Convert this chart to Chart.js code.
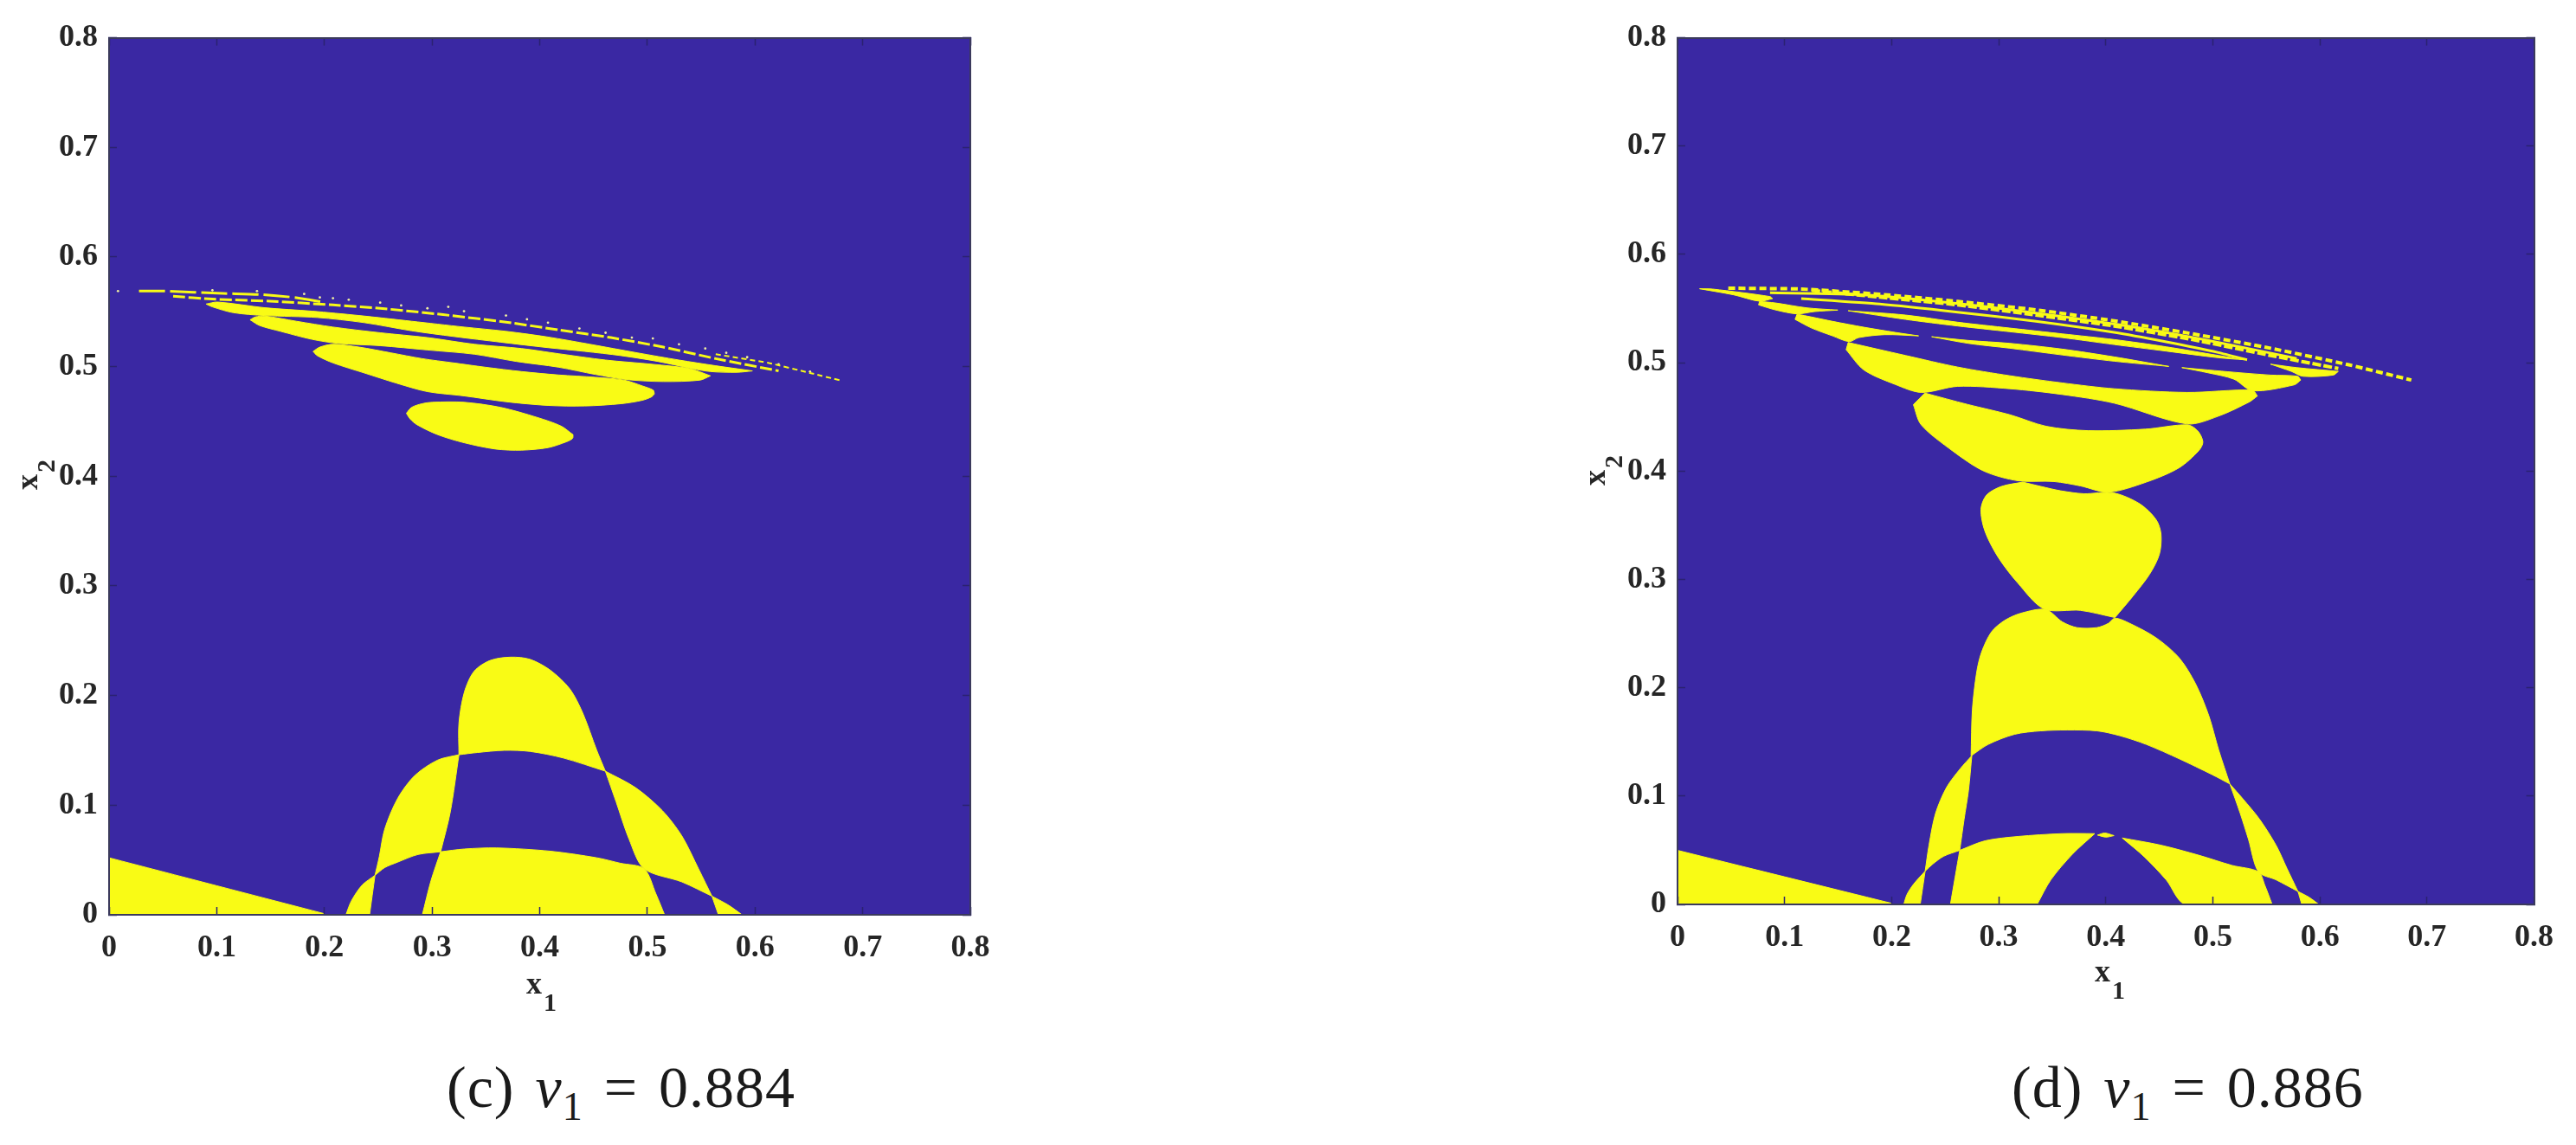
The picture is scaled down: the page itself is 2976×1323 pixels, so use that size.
<!DOCTYPE html>
<html>
<head>
<meta charset="utf-8">
<script src="https://cdn.jsdelivr.net/npm/chart.js@4/dist/chart.umd.min.js"></script>
<style>
  html, body { margin: 0; padding: 0; background: #fff; width: 2976px; height: 1323px; overflow: hidden; }
  canvas { position: absolute; top: 0; }
  #plotC { left: 0; }
  #plotD { left: 1813px; }
  .caption { position: absolute; font: 68px "Liberation Serif", serif; color: #1a1a1a; white-space: nowrap; top: 1221px; line-height: 70px; letter-spacing: 1px; word-spacing: 6px; }
  .caption sub { font-size: 46px; line-height: 0; }
  .axisname { position: absolute; font: bold 36px "Liberation Serif", serif; color: #262626; white-space: nowrap; line-height: 36px; }
  .axisname sub { font-size: 30px; line-height: 0; vertical-align: -20px; margin-left: 2px; }
  .axisname.vert { transform: rotate(-90deg); transform-origin: 0 0; }
</style>
</head>
<body>
<canvas id="plotC" width="1200" height="1180"></canvas>
<canvas id="plotD" width="1163" height="1180"></canvas>
<div class="axisname" style="left:608px;top:1118px">x<sub>1</sub></div>
<div class="axisname" style="left:2420px;top:1104px">x<sub>1</sub></div>
<div class="axisname vert" style="left:13px;top:566px">x<sub>2</sub></div>
<div class="axisname vert" style="left:1824px;top:561px">x<sub>2</sub></div>
<div class="caption" style="left:516px">(c) <i>v</i><sub>1</sub> = 0.884</div>
<div class="caption" style="left:2324px">(d) <i>v</i><sub>1</sub> = 0.886</div>
<script>
const tickLabels = ["0", "0.1", "0.2", "0.3", "0.4", "0.5", "0.6", "0.7", "0.8"];
const blue = "#3a28a3";
const yellow = "#f9fb15";

// panel (c), yellow regions as [x1, x2]
const cTriangle = [[0,0],[0,.052],[.2,.001],[.2,0]];
const cTopLobe = [[.325,.146],[.325,.175],[.330,.203],[.339,.222],[.354,.232],[.373,.235],[.391,.233],[.410,.223],[.428,.206],[.440,.184],[.453,.150],[.461,.131],[.422,.143],[.391,.149],[.367,.150],[.342,.148]];
const cLeftLobe = [[.247,.036],[.251,.053],[.256,.078],[.268,.106],[.284,.127],[.305,.141],[.325,.146],[.317,.094],[.308,.0575],[.287,.055],[.268,.048],[.256,.043]];
const cRightLobe = [[.461,.131],[.489,.116],[.514,.095],[.532,.072],[.548,.041],[.560,.017],[.532,.030],[.497,.042],[.483,.069],[.471,.103]];
const cCenter = [[.291,0],[.299,.031],[.308,.0575],[.330,.060],[.360,.061],[.410,.058],[.453,.052],[.475,.047],[.497,.042],[.508,.019],[.516,0]];
const cFootLeft = [[.220,0],[.225,.0125],[.235,.027],[.247,.036],[.242,0]];
const cFootRight = [[.560,.017],[.575,.009],[.588,0],[.566,0]];
const cEllipse1 = [[.2762,.4575],[.281,.4628],[.2908,.4662],[.3005,.4675],[.3297,.4675],[.3638,.4628],[.3979,.4536],[.4198,.4458],[.431,.4379],[.4305,.4345],[.4247,.4314],[.4077,.4261],[.3833,.4238],[.3590,.4248],[.3297,.4306],[.3054,.4379],[.2859,.4471],[.2796,.4523]];
const cEllipse2 = [[.1895,.5139],[.1958,.5178],[.2080,.5204],[.2323,.5178],[.2616,.5126],[.2908,.5073],[.3200,.5034],[.3492,.4995],[.3833,.4955],[.4174,.4924],[.4515,.4903],[.4783,.4877],[.4953,.4824],[.5055,.4785],[.5065,.4751],[.5040,.4725],[.4953,.4693],[.4758,.4662],[.4418,.4641],[.4077,.4646],[.3687,.468],[.3297,.4733],[.2957,.4772],[.2664,.4851],[.2372,.4942],[.2080,.5034],[.1934,.5100]];
const cEllipse3 = [[.1310,.5427],[.1359,.5453],[.1447,.5461],[.1739,.5414],[.2080,.5361],[.2518,.5309],[.2957,.5265],[.3395,.5204],[.3833,.5165],[.4174,.5118],[.4612,.5060],[.5051,.5021],[.5392,.4982],[.5586,.4916],[.5489,.4877],[.5148,.4864],[.4807,.4882],[.4515,.4929],[.4174,.4995],[.3784,.5047],[.3395,.5113],[.2957,.5152],[.2518,.5191],[.2128,.5212],[.1885,.5249],[.1593,.5322],[.1398,.5375]];
const cEllipse4 = [[.0901,.5571],[.1009,.5589],[.1447,.5537],[.1885,.5506],[.2323,.5466],[.2810,.5414],[.3297,.5361],[.3687,.5322],[.4077,.5270],[.4466,.5204],[.4905,.5126],[.5294,.5060],[.5635,.5008],[.5976,.4961],[.5830,.4948],[.5586,.4955],[.5392,.4987],[.5099,.5047],[.4758,.5100],[.4418,.5139],[.4077,.5173],[.3638,.5223],[.3200,.5275],[.2810,.5327],[.2372,.5401],[.1934,.5448],[.1447,.5466],[.1155,.5492],[.0960,.5545]];
const cThinBand = [[.0595,.5642],[.0960,.5616],[.1496,.5597],[.2080,.5563],[.2518,.5532],[.3103,.5474],[.3687,.5406],[.4174,.5335],[.4661,.5265],[.5148,.5178],[.5635,.5073],[.6219,.4961]];
const cTopDashes = [[.0278,.5689],[.0522,.5689],[.1057,.5668],[.1398,.5658],[.1739,.5629],[.1983,.5589]];
const cTailDashes = [[.5635,.5113],[.6122,.5034],[.6511,.4942],[.6804,.4872]];
const cSpecks = [[.0083,.5689],[.0960,.5697],[.1374,.5689],[.1812,.5663],[.1958,.5631],[.2080,.5624],[.2226,.5610],[.2518,.5584],[.2713,.5558],[.2957,.5532],[.3151,.5545],[.3297,.5506],[.3687,.5466],[.3882,.5432],[.4077,.5401],[.4369,.5348],[.4612,.5309],[.4856,.5265],[.5051,.5257],[.5294,.5204],[.5538,.5165],[.5733,.5126],[.5927,.5086],[.6219,.5021],[.6511,.4955]];

// panel (d)
const dTriangle = [[0,0],[0,.0499],[.2,.001],[.2,0]];
const dFootLeft = [[.2113,0],[.2144,.0093],[.2205,.0187],[.2313,.0307],[.2267,0]];
const dLeftLobe = [[.2313,.0307],[.2349,.0547],[.2410,.0840],[.2513,.1080],[.2641,.1253],[.2749,.1373],[.2718,.1053],[.2677,.0787],[.2636,.0499],[.2487,.0445],[.2385,.0373]];
const dCenterLeft = [[.2549,0],[.2636,.0499],[.2872,.0587],[.3179,.0627],[.3590,.0653],[.3897,.0653],[.3692,.0467],[.3487,.0227],[.3359,0]];
const dTip = [[.3923,.064],[.3990,.0659],[.4077,.0635],[.4,.0621]];
const dCenterRight = [[.4154,.0613],[.4513,.0547],[.4872,.0453],[.5179,.0360],[.5426,.0301],[.5487,.0173],[.5554,0],[.4744,0],[.4564,.0227],[.4359,.0440]];
const dRightLobe = [[.5159,.1112],[.5282,.0973],[.5436,.0787],[.5590,.0547],[.5692,.0333],[.5795,.0120],[.5590,.0227],[.5426,.0301],[.5333,.06],[.5256,.0840]];
const dFootRight = [[.5795,.012],[.5897,.0067],[.5990,0],[.5831,0]];
const dBell = [[.2742,.1371],[.2754,.1796],[.2794,.2142],[.2840,.2328],[.2932,.2515],[.3055,.2621],[.3209,.2688],[.3440,.2722],[.3594,.2608],[.3732,.2555],[.3917,.2555],[.4024,.2594],[.4086,.2642],[.4224,.2594],[.4470,.2461],[.4686,.2275],[.4839,.2036],[.4962,.1743],[.5055,.1424],[.5159,.1112],[.4993,.1198],[.4686,.1344],[.4378,.1477],[.4132,.1557],[.3917,.1602],[.3640,.1610],[.3394,.1602],[.3148,.1570],[.2902,.1477]];
const dBlob = [[.3225,.3898],[.3025,.3858],[.2886,.3778],[.2834,.3645],[.2871,.3446],[.2994,.3206],[.3178,.2967],[.3424,.2727],[.3763,.2714],[.4086,.2648],[.4255,.2847],[.4409,.3047],[.4501,.3233],[.4516,.3419],[.4470,.3552],[.4317,.3698],[.4070,.3799],[.3794,.3791],[.3578,.3818],[.3394,.3858]];
const dBowl = [[.2310,.4720],[.2203,.4613],[.2276,.4427],[.2568,.4187],[.2861,.4000],[.3178,.3911],[.3517,.3903],[.3763,.3863],[.4024,.3805],[.4378,.3898],[.4686,.4031],[.4870,.4190],[.4907,.4270],[.4857,.4373],[.4760,.4427],[.4370,.4387],[.3835,.4373],[.3445,.4413],[.3104,.4520],[.2714,.4614]];
const dLobe3 = [[.1594,.5187],[.1575,.5120],[.1740,.4934],[.2033,.4800],[.2276,.4726],[.2617,.4782],[.3104,.4760],[.3591,.4707],[.4078,.4627],[.4760,.4435],[.5052,.4507],[.5344,.4640],[.5417,.4694],[.5369,.4747],[.4760,.4726],[.4078,.4760],[.3591,.4814],[.3104,.4880],[.2617,.4960],[.2130,.5067]];
const dLobe4 = [[.1117,.5448],[.1098,.5400],[.1253,.5320],[.1448,.5248],[.1604,.5195],[.1692,.5232],[.1935,.5259],[.2252,.5248],[.2033,.5280],[.1740,.5328],[.1448,.5382],[.1253,.5422]];
const dBand1 = [[.2374,.5240],[.2714,.5206],[.3104,.5179],[.3591,.5126],[.4078,.5054],[.4589,.4966],[.4078,.5014],[.3591,.5072],[.3104,.5134],[.2714,.5179]];
const dRightPiece = [[.4711,.4955],[.5198,.4912],[.5539,.4886],[.5792,.4875],[.5821,.4840],[.5758,.4795],[.5369,.4742],[.5198,.4848],[.4955,.4907]];
const dLobe5 = [[.0766,.5566],[.0757,.5534],[.0913,.5488],[.1117,.5451],[.1278,.5472],[.1497,.5486],[.1205,.5507],[.0913,.5552]];
const dBand2 = [[.1594,.5480],[.2130,.5440],[.2617,.5374],[.3104,.5320],[.3591,.5267],[.4078,.5214],[.4565,.5147],[.5052,.5067],[.5296,.5027],[.5052,.5046],[.4565,.5107],[.4078,.5168],[.3591,.5232],[.3104,.5286],[.2617,.5339],[.2130,.5400]];
const dRightEnd = [[.5539,.4987],[.5783,.4955],[.6172,.4920],[.6124,.4886],[.5841,.4875],[.5734,.4920]];
const dLeftTip = [[.0206,.5683],[.0328,.5680],[.0864,.5611],[.0888,.5592],[.0766,.5568],[.0523,.5627]];
const dLine1 = [[.1156,.5592],[.1887,.5542],[.2617,.5467],[.3348,.5382],[.4078,.5280],[.4565,.5192],[.5052,.5094],[.5320,.5027]];
const dLine2 = [[.0864,.5646],[.1740,.5627],[.2227,.5587],[.2861,.5520],[.3591,.5427],[.4322,.5320],[.5052,.5187],[.5783,.5040]];
const dDash1 = [[.1253,.5667],[.1887,.5606],[.2617,.5534],[.3348,.5440],[.4078,.5339],[.4809,.5214],[.5539,.5067],[.6172,.4947]];
const dDash2 = [[.0474,.5688],[.1156,.5680],[.1887,.5632],[.2617,.5566],[.3348,.5488],[.4078,.5387],[.4809,.5267],[.5539,.5134],[.6270,.4981],[.6854,.4840]];

function toPoints(list) {
  return list.map((p) => ({ x: p[0], y: p[1] }));
}

// a point listed twice keeps the spline from rounding a cusp, so do that where the outline turns hard
function withCusps(list) {
  const out = [];
  const n = list.length;
  list.forEach((p, i) => {
    const a = list[(i + n - 1) % n];
    const b = list[(i + 1) % n];
    const turn = Math.abs(Math.atan2(b[1] - p[1], b[0] - p[0]) - Math.atan2(p[1] - a[1], p[0] - a[0]));
    const angle = turn > Math.PI ? 2 * Math.PI - turn : turn;
    out.push(p);
    if (angle > 1.0) out.push(p);
  });
  out.push(list[0]);
  return out;
}

function region(list) {
  return {
    data: toPoints(withCusps(list)),
    showLine: true,
    fill: "shape",
    backgroundColor: yellow,
    borderColor: yellow,
    borderWidth: 1,
    tension: 0.3,
    pointRadius: 0,
  };
}

function band(list, width, dash) {
  return {
    data: toPoints(list),
    showLine: true,
    fill: false,
    borderColor: yellow,
    borderWidth: width,
    borderDash: dash || [],
    tension: 0.2,
    pointRadius: 0,
  };
}

function specks(list) {
  return {
    data: toPoints(list),
    showLine: false,
    pointRadius: 1.4,
    pointBackgroundColor: "#f0f0a0",
    pointBorderWidth: 0,
  };
}

const areaFill = {
  id: "areaFill",
  beforeDatasetsDraw(chart) {
    const a = chart.chartArea;
    chart.ctx.save();
    chart.ctx.fillStyle = blue;
    chart.ctx.fillRect(a.left, a.top, a.width, a.height);
    chart.ctx.restore();
  },
};

function axis(position, size) {
  const horizontal = position === "top" || position === "bottom";
  const labelled = position === "bottom" || position === "left";
  return {
    type: "linear",
    position: position,
    min: 0,
    max: 0.8,
    afterFit: (s) => {
      if (horizontal) s.height = size;
      else s.width = size;
    },
    border: { display: true, color: "#3b3a5c", width: 2, z: 2 },
    grid: { drawOnChartArea: false, drawTicks: true, tickLength: -9, tickColor: "#2b2270", tickWidth: 1.5, z: 1 },
    ticks: {
      display: labelled,
      stepSize: 0.1,
      autoSkip: false,
      maxRotation: 0,
      padding: horizontal ? 26 : 22,
      color: "#262626",
      font: { family: "Liberation Serif", size: 36, weight: "bold" },
      callback: (v, i) => tickLabels[i],
    },
  };
}

function makeChart(id, datasets, sizes) {
  return new Chart(document.getElementById(id), {
    type: "scatter",
    data: { datasets: datasets },
    plugins: [areaFill],
    options: {
      responsive: false,
      animation: false,
      layout: { padding: 0 },
      plugins: { legend: { display: false }, tooltip: { enabled: false } },
      scales: {
        x: axis("bottom", sizes.bottom),
        y: axis("left", sizes.left),
        x2: axis("top", sizes.top),
        y2: axis("right", sizes.right),
      },
    },
  });
}

makeChart("plotC", [
  region(cTriangle), region(cTopLobe), region(cLeftLobe), region(cRightLobe), region(cCenter),
  region(cFootLeft), region(cFootRight), region(cEllipse1), region(cEllipse2), region(cEllipse3), region(cEllipse4),
  band(cThinBand, 3, [14, 4]), band(cTopDashes, 3, [30, 6]), band(cTailDashes, 2, [6, 4]), specks(cSpecks),
], { left: 126, right: 79, top: 39, bottom: 123 });

makeChart("plotD", [
  region(dTriangle), region(dFootLeft), region(dLeftLobe), region(dCenterLeft), region(dTip), region(dCenterRight),
  region(dRightLobe), region(dFootRight), region(dBell), region(dBlob), region(dBowl), region(dLobe3), region(dLobe4),
  region(dBand1), region(dRightPiece), region(dLobe5), region(dBand2), region(dRightEnd), region(dLeftTip),
  band(dLine1, 3), band(dLine2, 3), band(dDash1, 4, [10, 3]), band(dDash2, 4, [8, 4]),
], { left: 125, right: 43, top: 42, bottom: 135 });
</script>
</body>
</html>
